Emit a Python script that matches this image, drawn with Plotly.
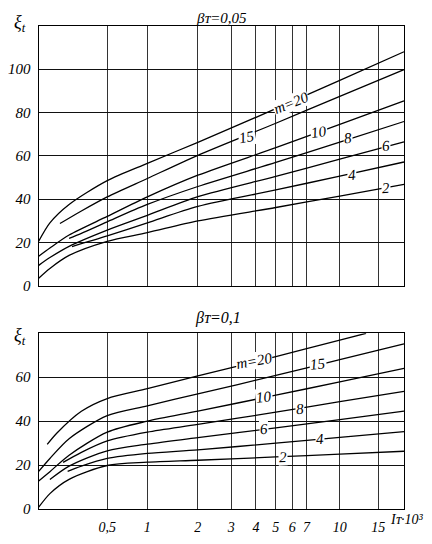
import numpy as np
import plotly.graph_objects as go

# значения: Ir*10^3 -> xi_t
# верхний график, beta_T = 0.05
top_x_m20 = [0, 0.06, 0.18, 0.5, 1, 2, 5, 10, 19.6]
top_y_m20 = [20.5, 29, 37.5, 48.5, 56.5, 66.2, 81.7, 94.8, 108]
top_x_m15 = [0.12, 0.27, 0.5, 1, 2, 5, 10, 19.6]
top_y_m15 = [28.7, 34.5, 41, 49.5, 60.2, 75, 87.4, 99.7]
top_x_m10 = [0, 0.06, 0.18, 0.5, 1, 2, 5, 10, 19.6]
top_y_m10 = [13.6, 17.4, 23.4, 32, 41, 51, 63.7, 74.5, 85.3]
top_x_m8 = [0.18, 0.27, 0.5, 1, 2, 5, 10, 19.6]
top_y_m8 = [21.9, 24.2, 29.5, 37.5, 45.8, 56.9, 66.3, 75.8]
top_x_m6 = [0, 0.06, 0.18, 0.5, 1, 2, 5, 10, 19.6]
top_y_m6 = [9.4, 13, 18.2, 25.7, 32.5, 41.1, 50.5, 58.4, 66.4]
top_x_m4 = [0.2, 0.5, 1, 2, 5, 10, 19.6]
top_y_m4 = [18.1, 23, 29, 36.6, 44.2, 50.6, 57.1]
top_x_m2 = [0, 0.06, 0.18, 0.5, 1, 2, 5, 10, 19.6]
top_y_m2 = [3.5, 8, 14, 20.5, 24.5, 29.9, 36.1, 41.4, 46.8]

# нижний график, beta_T = 0.1
bot_x_m20 = [0.045, 0.1, 0.27, 0.5, 1, 2, 5, 10, 13.2]
bot_y_m20 = [29.4, 34.5, 44.5, 50.3, 54.8, 60.6, 69.4, 76.9, 80]
bot_x_m15 = [0, 0.06, 0.18, 0.5, 1, 2, 5, 10, 19.6]
bot_y_m15 = [17.1, 23, 32, 42.5, 47, 52.4, 60.8, 68, 75.2]
bot_x_m10 = [0, 0.06, 0.18, 0.5, 1, 2, 5, 10, 19.6]
bot_y_m10 = [12.7, 17, 24.5, 35, 40, 44.6, 51.8, 57.9, 64]
bot_x_m8 = [0.14, 0.27, 0.5, 1, 2, 5, 10, 19.6]
bot_y_m8 = [21.2, 25.8, 31, 35, 38.5, 44.1, 48.9, 53.6]
bot_x_m6 = [0.06, 0.18, 0.5, 1, 2, 5, 10, 19.6]
bot_y_m6 = [13.4, 19.5, 26.5, 29.5, 32.5, 36.9, 40.7, 44.6]
bot_x_m4 = [0.17, 0.27, 0.5, 1, 2, 5, 10, 19.6]
bot_y_m4 = [17.1, 19.5, 23, 25.3, 26.9, 30, 32.6, 35.2]
bot_x_m2 = [0, 0.06, 0.18, 0.5, 1, 2, 5, 10, 19.6]
bot_y_m2 = [0.8, 7, 13.5, 19.8, 21.3, 22.2, 23.7, 25, 26.3]

x_ticks = [0.5, 1, 2, 3, 4, 5, 6, 7, 10, 15]
x_ticktext = ["0,5", "1", "2", "3", "4", "5", "6", "7", "10", "15"]
top_yticks = [0, 20, 40, 60, 80, 100]
bot_yticks = [0, 20, 40, 60]

# подписи кривых: текст, x, y, угол
top_labels = [("m=20", 5.9, 84.3, -22), ("15", 3.6, 68.6, -10), ("10", 8.0, 71.0, -8),
              ("8", 10.9, 68.0, -6), ("6", 16.2, 64.3, -6), ("4", 11.4, 51.0, -5),
              ("2", 16.2, 45.0, -4)]
bot_labels = [("m=20", 3.9, 67.4, -10), ("15", 7.9, 65.9, -6), ("10", 4.4, 50.9, -6),
              ("8", 6.5, 45.4, -5), ("6", 4.4, 36.5, -4), ("4", 8.1, 32.0, -3),
              ("2", 5.4, 23.8, -2)]

# шкала по оси x: lg(I + 0.5)
SHIFT = 0.5
def sx(v):
    return np.array(v) + SHIFT

# у страницы поле 8px со всех сторон -> фигура 416x528
OFF = 8
W, H = 432 - 2 * OFF, 544 - 2 * OFF
def px(x):
    return (x - OFF) / W
def py(y):
    return 1 - (y - OFF) / H

serif = "Liberation Serif"
fig = go.Figure()

top = [(top_x_m20, top_y_m20), (top_x_m15, top_y_m15), (top_x_m10, top_y_m10),
       (top_x_m8, top_y_m8), (top_x_m6, top_y_m6), (top_x_m4, top_y_m4), (top_x_m2, top_y_m2)]
bot = [(bot_x_m20, bot_y_m20), (bot_x_m15, bot_y_m15), (bot_x_m10, bot_y_m10),
       (bot_x_m8, bot_y_m8), (bot_x_m6, bot_y_m6), (bot_x_m4, bot_y_m4), (bot_x_m2, bot_y_m2)]

for xs, ys in top:
    fig.add_trace(go.Scatter(x=sx(xs), y=ys, mode="lines", xaxis="x", yaxis="y",
                             line=dict(color="black", width=1.3, shape="spline", smoothing=0.8),
                             showlegend=False, hoverinfo="skip"))
for xs, ys in bot:
    fig.add_trace(go.Scatter(x=sx(xs), y=ys, mode="lines", xaxis="x2", yaxis="y2",
                             line=dict(color="black", width=1.3, shape="spline", smoothing=0.8),
                             showlegend=False, hoverinfo="skip"))

xr = [np.log10(SHIFT), np.log10(19.65 + SHIFT)]
xdom = [px(34), px(404)]
common_x = dict(type="log", range=xr, domain=xdom, tickvals=sx(x_ticks), showgrid=True,
                gridcolor="#333", gridwidth=0.8, showline=True, mirror=True,
                linecolor="black", linewidth=1.3, ticks="", zeroline=False)
common_y = dict(showgrid=True, gridcolor="#111", gridwidth=1.4, showline=True, mirror=True,
                linecolor="black", linewidth=1.3, ticks="", zeroline=False,
                ticklabelstandoff=4,
                tickfont=dict(family=serif, size=15, style="italic", color="black"))

fig.update_layout(
    width=W, height=H, autosize=False,
    margin=dict(l=0, r=0, t=0, b=0),
    paper_bgcolor="white", plot_bgcolor="white",
    xaxis=dict(common_x, anchor="y", showticklabels=False),
    yaxis=dict(common_y, anchor="x", range=[0, 120], tickvals=top_yticks,
               domain=[py(290), py(26)]),
    xaxis2=dict(common_x, anchor="y2", ticktext=x_ticktext, ticklabelstandoff=5,
                tickfont=dict(family=serif, size=14, style="italic", color="black")),
    yaxis2=dict(common_y, anchor="x2", range=[0, 80], tickvals=bot_yticks,
                domain=[py(516.7), py(338.3)]),
)

lab_font = dict(family=serif, size=15, style="italic", color="black")
for txt, lx, ly, ang in top_labels:
    fig.add_annotation(x=np.log10(lx + SHIFT), y=ly, xref="x", yref="y", text=txt,
                       showarrow=False, bgcolor="white", borderpad=0, textangle=ang, font=lab_font)
for txt, lx, ly, ang in bot_labels:
    fig.add_annotation(x=np.log10(lx + SHIFT), y=ly, xref="x2", yref="y2", text=txt,
                       showarrow=False, bgcolor="white", borderpad=0, textangle=ang, font=lab_font)

# подписи в координатах страницы, якорь по центру
def page_text(txt, x, y, size, xanchor="center"):
    fig.add_annotation(x=px(x), y=py(y), xref="paper", yref="paper", text=txt,
                       showarrow=False, borderpad=0, xanchor=xanchor, yanchor="middle",
                       font=dict(family=serif, size=size, style="italic", color="black"))

page_text("βᴛ=0,05", 219, 18, 15)
page_text("βᴛ=0,1", 215, 323, 16)
page_text("ξ<sub>t</sub>", 15, 24, 18)
page_text("ξ<sub>t</sub>", 15, 342, 18)
page_text("Iᴛ·10³", 424, 527, 14, xanchor="right")

fig.write_html("out.html")
